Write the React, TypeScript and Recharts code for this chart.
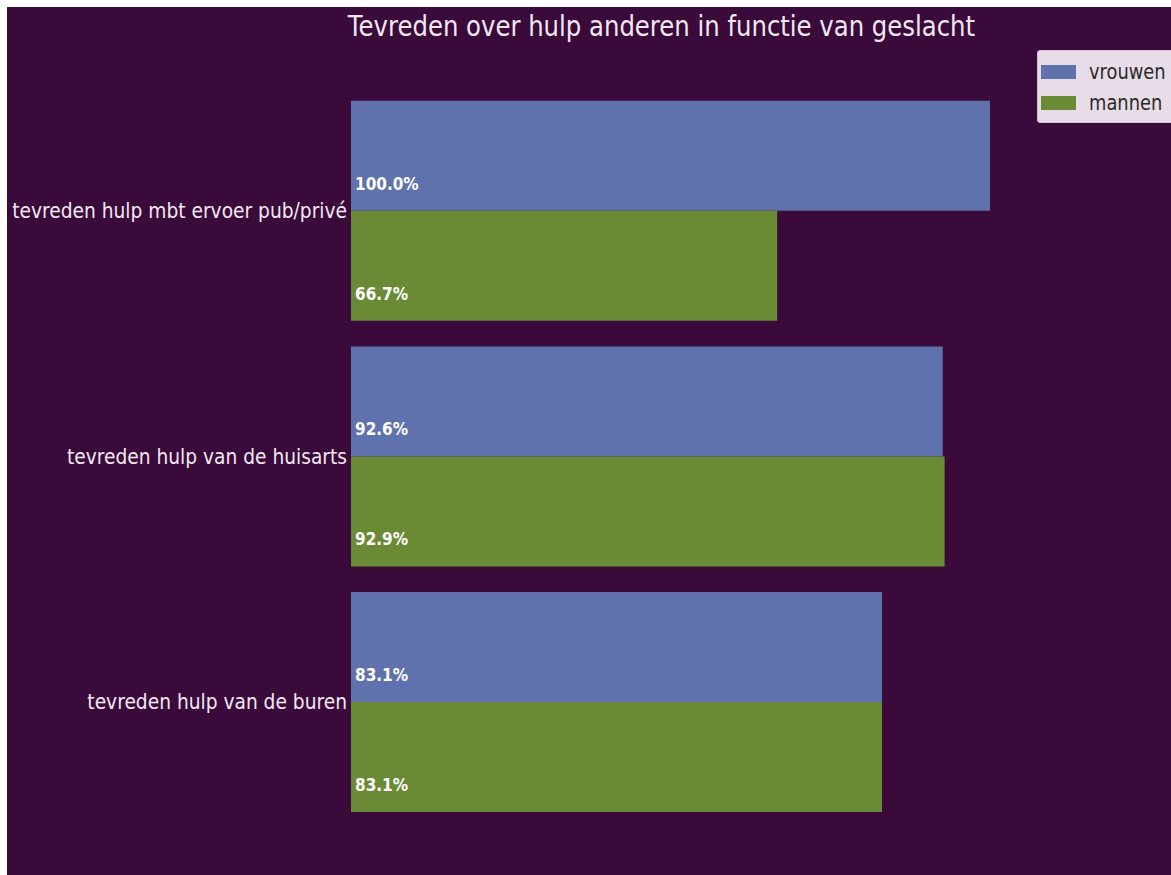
import React from "react";
import { BarChart, Bar, XAxis, YAxis, LabelList } from "recharts";

const categories = [
  "tevreden hulp mbt ervoer pub/privé",
  "tevreden hulp van de huisarts",
  "tevreden hulp van de buren",
];
const vrouwen = [100.0, 92.6, 83.1];
const mannen = [66.7, 92.9, 83.1];
const seriesNames = ["vrouwen", "mannen"];
const title = "Tevreden over hulp anderen in functie van geslacht";

const BG = "#3a0a3a";
const BLUE = "#5f72ad";
const GREEN = "#6a8a35";
const TEXT = "#f2e8f2";
const FONT = "DejaVu Sans, sans-serif";

const data = categories.map((c, i) => ({ cat: c, vrouwen: vrouwen[i], mannen: mannen[i] }));

const YTick = (props: any) => {
  const { x, y, payload } = props;
  return (
    <text
      transform={`translate(${x + 6}, ${y}) scale(0.888, 1)`}
      x={0}
      y={0}
      dy={7}
      textAnchor="end"
      fill={TEXT}
      fontSize={21}
      fontFamily={FONT}
    >
      {payload.value}
    </text>
  );
};

const ValueLabel = (props: any) => {
  const { x, y, value } = props;
  return (
    <text
      transform={`translate(${x + 4}, ${y + 89}) scale(0.9, 1)`}
      x={0}
      y={0}
      fill="#ffffff"
      fontSize={17}
      fontWeight="bold"
      fontFamily={FONT}
    >
      {`${Number(value).toFixed(1)}%`}
    </text>
  );
};

const LegendBox = () => (
  <div
    style={{
      position: "absolute",
      left: 1030,
      top: 43,
      width: 150,
      height: 73,
      boxSizing: "border-box",
      background: "#e7dce7",
      border: "1px solid #d0c4d0",
      borderRadius: 3,
      paddingTop: 5,
      fontFamily: FONT,
      fontSize: 21,
      color: "#2a2a2a",
    }}
  >
    {seriesNames.map((n, i) => (
      <div key={n} style={{ display: "flex", alignItems: "center", height: 31 }}>
        <div style={{ width: 35, height: 14, background: i === 0 ? BLUE : GREEN, marginLeft: 3, marginRight: 13 }} />
        <span style={{ display: "inline-block", transform: "scaleX(0.85)", transformOrigin: "left center" }}>{n}</span>
      </div>
    ))}
  </div>
);

export default function App() {
  return (
    <div style={{ position: "absolute", left: 0, top: 0, width: 1171, height: 875, background: "#ffffff", overflow: "hidden" }}>
      <div style={{ position: "absolute", left: 7, top: 7, width: 1164, height: 868, background: BG, overflow: "hidden" }}>
        <div
          style={{
            position: "absolute",
            left: 154,
            top: 3,
            width: 1000,
            textAlign: "center",
            color: TEXT,
            fontFamily: FONT,
            fontSize: 28,
            whiteSpace: "nowrap",
          }}
        >
          <span style={{ display: "inline-block", transform: "scaleX(0.87)" }}>{title}</span>
        </div>
        <BarChart
          width={1164}
          height={868}
          data={data}
          layout="vertical"
          margin={{ top: 81, right: 181, bottom: 50, left: 0 }}
          barCategoryGap={12.75}
          barGap={0}
        >
          <XAxis type="number" domain={[0, 100]} hide />
          <YAxis
            type="category"
            dataKey="cat"
            width={344}
            axisLine={false}
            tickLine={false}
            tick={<YTick />}
            tickMargin={4}
          />
          <Bar dataKey="vrouwen" name="vrouwen" fill={BLUE} isAnimationActive={false}>
            <LabelList dataKey="vrouwen" content={<ValueLabel />} />
          </Bar>
          <Bar dataKey="mannen" name="mannen" fill={GREEN} isAnimationActive={false}>
            <LabelList dataKey="mannen" content={<ValueLabel />} />
          </Bar>
        </BarChart>
        <LegendBox />
      </div>
    </div>
  );
}
